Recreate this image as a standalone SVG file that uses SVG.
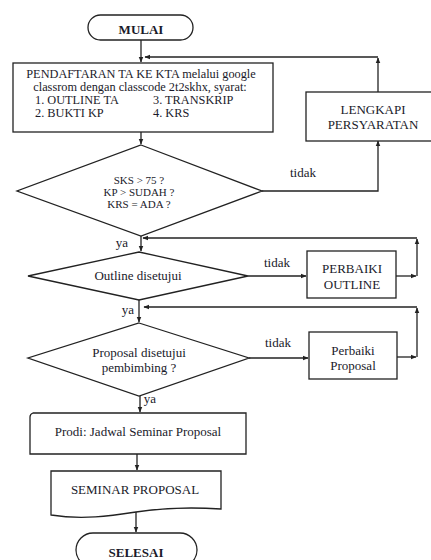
<svg xmlns="http://www.w3.org/2000/svg" width="431" height="560" viewBox="0 0 431 560">
<style>
.s{fill:#fff;stroke:#222;stroke-width:1.3}
.c{fill:none;stroke:#222;stroke-width:1.3}
text{font-family:"Liberation Serif","Times New Roman",serif;font-size:13px;fill:#1a1a2a}
.m{text-anchor:middle}
.b{font-weight:bold;font-size:13px}
.t{font-size:12.3px}
.d{font-size:11px}
</style>
<defs>
<marker id="a" viewBox="0 0 10 10" refX="9" refY="5" markerWidth="6" markerHeight="6" orient="auto" markerUnits="userSpaceOnUse">
<path d="M0,1 L10,5 L0,9 Z" fill="#222"/>
</marker>
</defs>
<rect width="431" height="560" fill="#fff"/>
<g id="connectors">
<path class="c" d="M141,40 V62" marker-end="url(#a)"/>
<path class="c" d="M141,132 V144" marker-end="url(#a)"/>
<path class="c" d="M262,191 H378 V141" marker-end="url(#a)"/>
<path class="c" d="M378,92 V58" marker-end="url(#a)"/>
<path class="c" d="M378,57 H145" marker-end="url(#a)"/>
<path class="c" d="M141,236 V251" marker-end="url(#a)"/>
<path class="c" d="M248,276 H306" marker-end="url(#a)"/>
<path class="c" d="M396,276 H416" marker-end="url(#a)"/>
<path class="c" d="M417,276 V239" marker-end="url(#a)"/>
<path class="c" d="M417,238 H143" marker-end="url(#a)"/>
<path class="c" d="M139,300 V322" marker-end="url(#a)"/>
<path class="c" d="M249,358 H308" marker-end="url(#a)"/>
<path class="c" d="M397,357 H416" marker-end="url(#a)"/>
<path class="c" d="M417,357 V308" marker-end="url(#a)"/>
<path class="c" d="M417,307 H144" marker-end="url(#a)"/>
<path class="c" d="M140,396 V412" marker-end="url(#a)"/>
<path class="c" d="M137,454 V470" marker-end="url(#a)"/>
<path class="c" d="M136,512 V532" marker-end="url(#a)"/>
<text x="303" y="177" class="m">tidak</text>
<text x="122" y="247" class="m">ya</text>
<text x="277" y="267" class="m">tidak</text>
<text x="128" y="314" class="m">ya</text>
<text x="278" y="347" class="m">tidak</text>
<text x="150" y="403" class="m">ya</text>
</g>
<g id="mulai">
<rect class="s" x="88" y="15" width="105" height="25" rx="12.5"/>
<text x="141" y="34" class="m b">MULAI</text>
</g>
<g id="pendaftaran">
<rect class="s" x="13" y="63" width="260" height="69"/>
<text x="141" y="78" class="m t">PENDAFTARAN TA KE KTA melalui google</text>
<text x="140" y="91" class="m t">classrom dengan classcode 2t2skhx, syarat:</text>
<text x="35" y="104" class="t">1. OUTLINE TA</text>
<text x="153" y="104" class="t">3. TRANSKRIP</text>
<text x="35" y="117" class="t">2. BUKTI KP</text>
<text x="153" y="117" class="t">4. KRS</text>
</g>
<g id="lengkapi">
<rect class="s" x="306" y="92" width="146" height="49"/>
<text x="373" y="114" class="m">LENGKAPI</text>
<text x="373" y="129" class="m">PERSYARATAN</text>
</g>
<g id="cek-syarat">
<path class="s" d="M141,145 L262,191 L141,236 L17,191 Z"/>
<text x="139" y="184" class="m d">SKS &gt; 75 ?</text>
<text x="139" y="196" class="m d">KP &gt; SUDAH ?</text>
<text x="139" y="208" class="m d">KRS = ADA ?</text>
</g>
<g id="outline">
<path class="s" d="M139,252 L248,276 L139,300 L28,276 Z"/>
<text x="138" y="280" class="m">Outline disetujui</text>
</g>
<g id="perbaiki-outline">
<rect class="s" x="307" y="251" width="89" height="47"/>
<text x="352" y="273" class="m">PERBAIKI</text>
<text x="352" y="289" class="m">OUTLINE</text>
</g>
<g id="proposal">
<path class="s" d="M139,323 L249,358 L139,396 L28,358 Z"/>
<text x="139" y="357" class="m">Proposal disetujui</text>
<text x="139" y="372" class="m">pembimbing ?</text>
</g>
<g id="perbaiki-proposal">
<rect class="s" x="309" y="332" width="88" height="47"/>
<text x="353" y="355" class="m">Perbaiki</text>
<text x="353" y="370" class="m">Proposal</text>
</g>
<g id="jadwal">
<path class="s" d="M33,413 H246 V454 H30 V417 Q30,414 33,413 Z"/>
<text x="138" y="436" class="m">Prodi: Jadwal Seminar Proposal</text>
</g>
<g id="seminar">
<path class="s" d="M51,471 H221 V509 C190,507 162,508 136,512 C110,516 82,520 51,515 Z"/>
<text x="135" y="494" class="m">SEMINAR PROPOSAL</text>
</g>
<g id="selesai">
<rect class="s" x="76" y="533" width="121" height="34" rx="17"/>
<text x="136" y="557" class="m b">SELESAI</text>
</g>
</svg>
